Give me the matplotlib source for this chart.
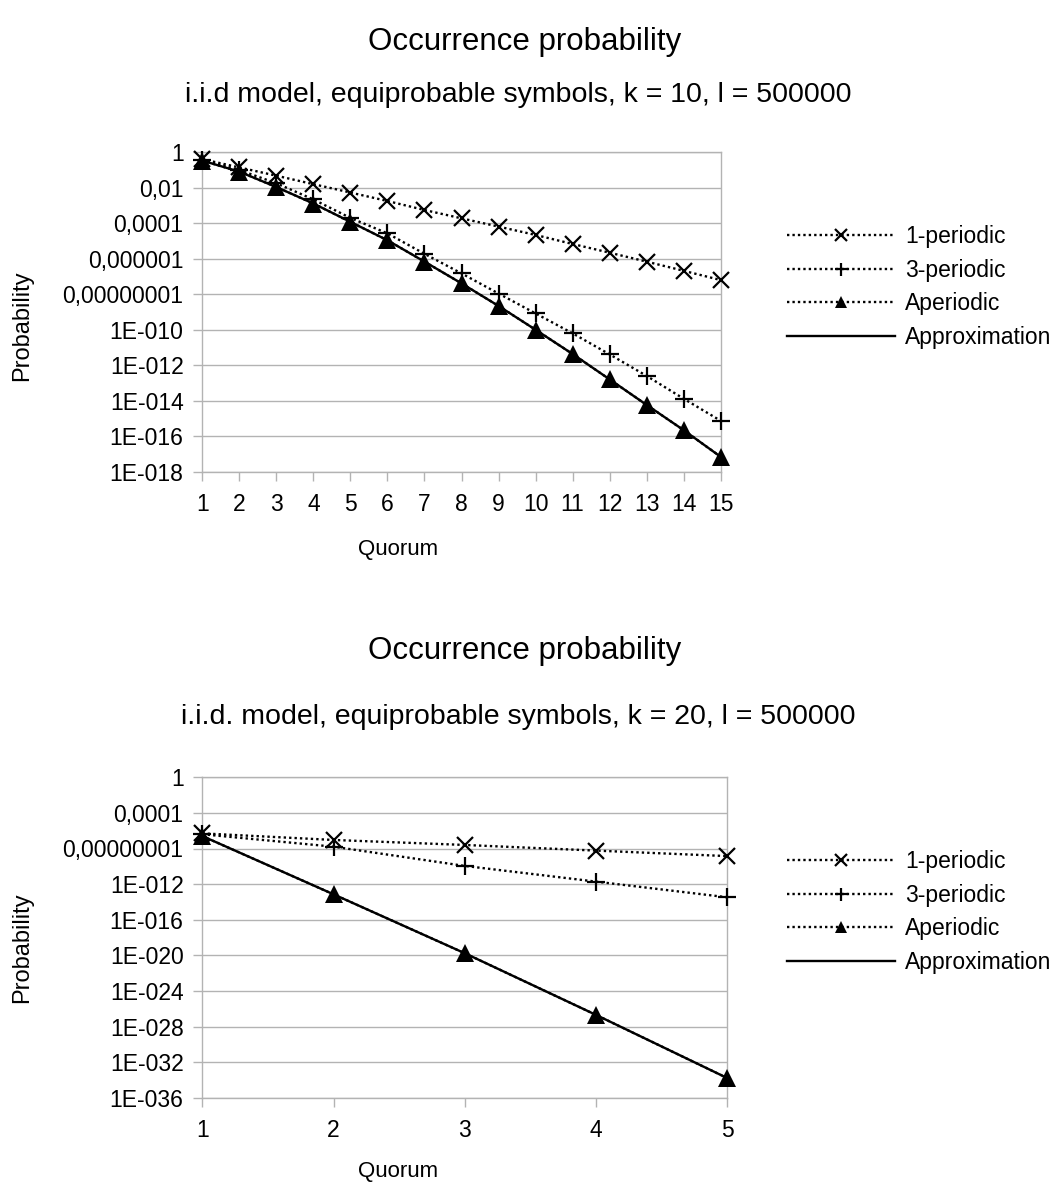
import matplotlib
matplotlib.use("Agg")
import matplotlib.pyplot as plt
from matplotlib.ticker import FixedLocator, FixedFormatter, NullLocator

plt.rcParams['font.family'] = ['Liberation Sans', 'DejaVu Sans']

# ---------------- data ----------------
quorum_top = [1, 2, 3, 4, 5, 6, 7, 8, 9, 10, 11, 12, 13, 14, 15]
p1_top = [0.41, 0.14, 0.048, 0.016, 0.0054, 0.0018, 5.6e-4, 1.9e-4, 6.5e-5,
          2.2e-5, 6.8e-6, 2.2e-6, 6.9e-7, 2.1e-7, 6.3e-8]
p3_top = [0.38, 0.10, 0.018, 2.2e-3, 2.0e-4, 2.7e-5, 1.9e-6, 1.5e-7, 1.1e-8,
          8.3e-10, 6.3e-11, 4.1e-12, 2.5e-13, 1.3e-14, 7.4e-16]
aper_top = [0.34, 0.081, 0.011, 1.3e-3, 1.2e-4, 1.1e-5, 6.9e-7, 4.1e-8, 2.2e-9,
            1.0e-10, 4.3e-12, 1.6e-13, 5.8e-15, 2.2e-16, 6.9e-18]
approx_top = [0.34, 0.081, 0.011, 1.3e-3, 1.2e-4, 1.1e-5, 6.9e-7, 4.1e-8, 2.2e-9,
              1.0e-10, 4.3e-12, 1.6e-13, 5.8e-15, 2.2e-16, 6.9e-18]

quorum_bot = [1, 2, 3, 4, 5]
p1_bot = [5.0e-7, 9.1e-8, 2.5e-8, 5.8e-9, 1.4e-9]
p3_bot = [4.0e-7, 1.6e-8, 1.1e-10, 1.9e-12, 3.3e-14]
aper_bot = [2.5e-7, 7.1e-14, 1.7e-20, 2.0e-27, 1.6e-34]
approx_bot = [2.5e-7, 7.1e-14, 1.7e-20, 2.0e-27, 1.6e-34]

yticks_top = [1, 1e-2, 1e-4, 1e-6, 1e-8, 1e-10, 1e-12, 1e-14, 1e-16, 1e-18]
ylabels_top = ["1", "0,01", "0,0001", "0,000001", "0,00000001", "1E-010",
               "1E-012", "1E-014", "1E-016", "1E-018"]
yticks_bot = [1, 1e-4, 1e-8, 1e-12, 1e-16, 1e-20, 1e-24, 1e-28, 1e-32, 1e-36]
ylabels_bot = ["1", "0,0001", "0,00000001", "1E-012", "1E-016", "1E-020",
               "1E-024", "1E-028", "1E-032", "1E-036"]

series_names = ["1-periodic", "3-periodic", "Aperiodic", "Approximation"]
title_main = "Occurrence probability"
subtitle_top = "i.i.d model, equiprobable symbols, k = 10, l = 500000"
subtitle_bot = "i.i.d. model, equiprobable symbols, k = 20, l = 500000"

# ---------------- figure ----------------
W, H = 1061, 1185
fig = plt.figure(figsize=(W / 100, H / 100), dpi=100)

GRID = "#b3b3b3"
FS = 16.5
dotted = (0, (1.0, 1.3))


def fx(px):
    return px / W


def fy(py):
    return 1 - py / H


def make_panel(rect, xs, s1, s3, sa, sx, yt, yl, ylim, subtitle,
               title_y, sub_y, qlabel_y, plabel_y, legend_y):
    ax = fig.add_axes(rect)
    ax.set_yscale('log')
    kw = dict(color='black', clip_on=False, zorder=3)
    ax.plot(xs, s1, linestyle=dotted, lw=1.7, marker='x', ms=12, mew=1.6,
            label=series_names[0], **kw)
    ax.plot(xs, s3, linestyle=dotted, lw=1.7, marker='+', ms=13, mew=1.6,
            label=series_names[1], **kw)
    ax.plot(xs, sa, linestyle=dotted, lw=1.7, marker='^', ms=12.5, mew=0,
            label=series_names[2], **kw)
    ax.plot(xs, sx, linestyle='-', lw=1.7, label=series_names[3], **kw)

    ax.set_xlim(xs[0], xs[-1])
    ax.set_ylim(ylim)
    ax.xaxis.set_major_locator(FixedLocator(xs))
    ax.xaxis.set_minor_locator(NullLocator())
    ax.yaxis.set_major_locator(FixedLocator(yt))
    ax.yaxis.set_major_formatter(FixedFormatter(yl))
    ax.yaxis.set_minor_locator(NullLocator())
    ax.set_xticklabels([str(v) for v in xs])
    ax.tick_params(axis='both', labelsize=FS, color=GRID, width=1,
                   length=6.5, direction='out')
    ax.tick_params(axis='x', pad=9)
    ax.tick_params(axis='y', pad=7)
    ax.grid(axis='y', color=GRID, lw=1)
    ax.set_axisbelow(True)
    for s in ax.spines.values():
        s.set_color(GRID)
        s.set_linewidth(1)

    fig.text(fx(525), fy(title_y), title_main, ha='center', va='center',
             fontsize=22.5)
    fig.text(fx(518), fy(sub_y), subtitle, ha='center', va='center',
             fontsize=20.5)
    fig.text(fx(398), fy(qlabel_y), "Quorum", ha='center', va='center',
             fontsize=16)
    fig.text(fx(22), fy(plabel_y), "Probability", ha='center', va='center',
             fontsize=17, rotation=90)

    fig.legend(handles=ax.get_lines(), loc='center left',
               bbox_to_anchor=(fx(787), fy(legend_y)), frameon=False,
               borderpad=0, borderaxespad=0, handlelength=4.7,
               handletextpad=0.44, labelspacing=0.46, numpoints=1,
               markerscale=0.72, fontsize=FS)
    return ax


make_panel([fx(202.3), fy(471.7), fx(720.7 - 202.3), (471.7 - 152.3) / H],
           quorum_top, p1_top, p3_top, aper_top, approx_top,
           yticks_top, ylabels_top, (1e-18, 1),
           subtitle_top, 42, 95, 549, 326, 287)

make_panel([fx(202.3), fy(1097.7), fx(727.3 - 202.3), (1097.7 - 777.3) / H],
           quorum_bot, p1_bot, p3_bot, aper_bot, approx_bot,
           yticks_bot, ylabels_bot, (1e-36, 1),
           subtitle_bot, 651, 717, 1172, 948, 912)

fig.savefig("out.png", dpi=100)
